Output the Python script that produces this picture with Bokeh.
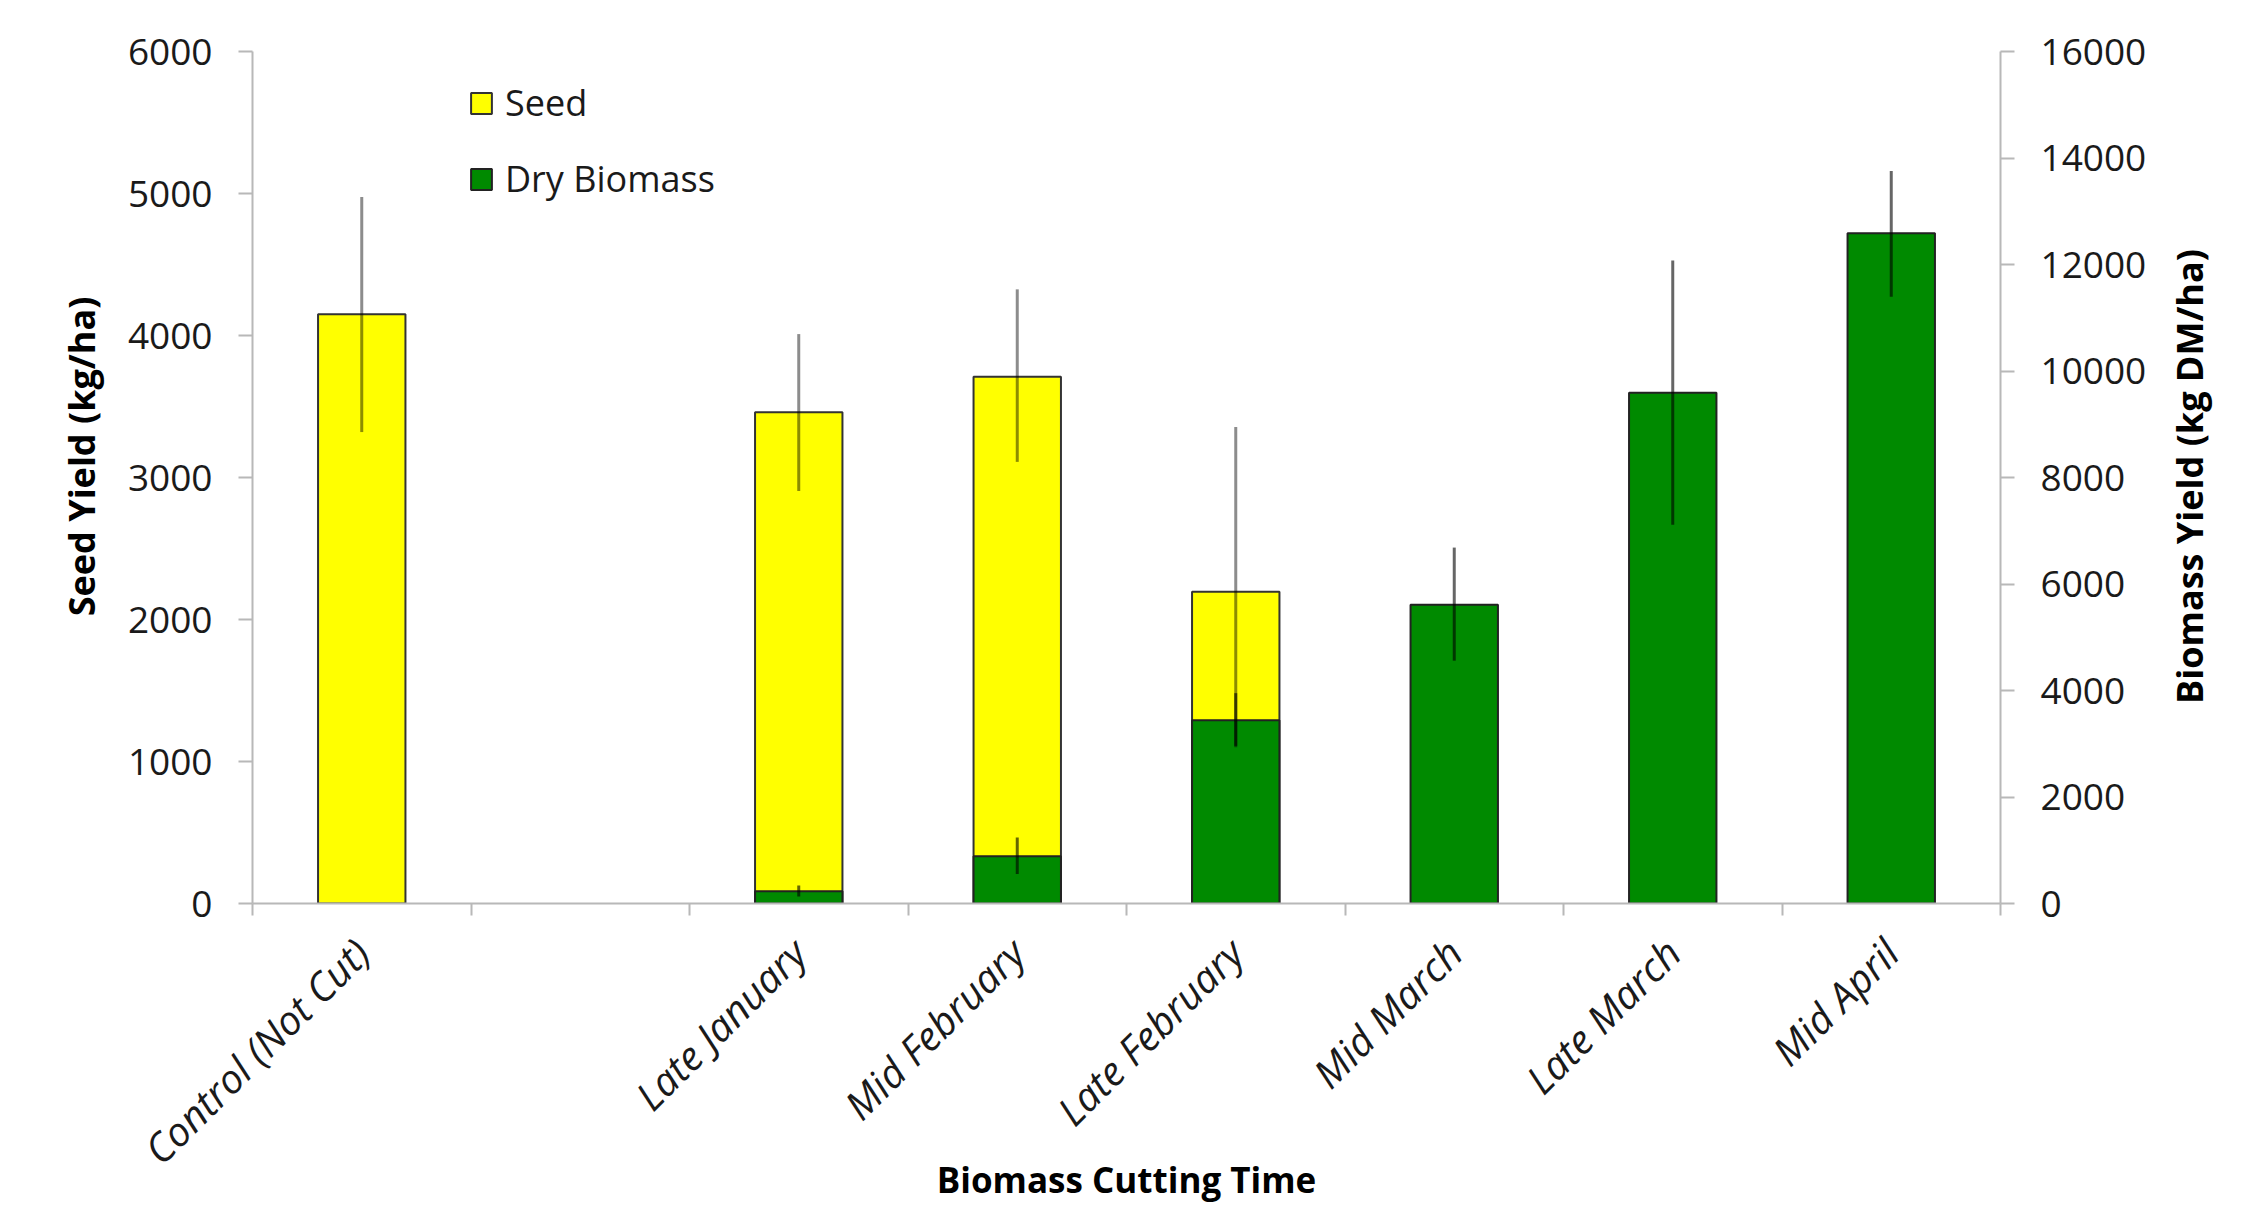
import math
from bokeh.plotting import figure
from bokeh.layouts import row
from bokeh.models import (Range1d, LinearAxis, FixedTicker, Legend, LegendItem,
                          ColumnDataSource)
from bokeh.core.properties import value
from bokeh.embed import file_html
from bokeh.resources import INLINE

# ---------------- data ----------------
categories = ["Control (Not Cut)", "", "Late January", "Mid February",
              "Late February", "Mid March", "Late March", "Mid April"]

seed_categories = ["Control (Not Cut)", "Late January", "Mid February", "Late February"]
seed_yield = [4150, 3460, 3710, 2195]
seed_err_low = [3320, 2905, 3110, 1100]
seed_err_high = [4975, 4010, 4325, 3355]

bio_categories = ["Late January", "Mid February", "Late February",
                  "Mid March", "Late March", "Mid April"]
bio_yield = [228, 888, 3440, 5610, 9590, 12585]
bio_err_low = [130, 555, 2960, 4560, 7115, 11395]
bio_err_high = [340, 1240, 3950, 6684, 12073, 13758]

seed_ticks = [0, 1000, 2000, 3000, 4000, 5000, 6000]
bio_ticks = [0, 2000, 4000, 6000, 8000, 10000, 12000, 14000, 16000]

left_title = "Seed Yield (kg/ha)"
right_title = "Biomass Yield (kg DM/ha)"
x_title = "Biomass Cutting Time"

FONT = "Open Sans"
AXIS_COLOR = "#b8b8b8"
TEXT_COLOR = "#1a1a1a"

H = 1197
LW, RW = 110, 88
FW, FH = 1748, 852
MAIN_LEFT = 252 - LW
MAIN_RIGHT = 160

# ---------------- main figure ----------------
n = len(categories)
p = figure(frame_width=FW, frame_height=FH, width=MAIN_LEFT + FW + MAIN_RIGHT, height=H,
           x_range=Range1d(-0.5, n - 0.5), y_range=Range1d(0, 6000),
           output_backend="svg", toolbar_location=None,
           min_border_left=MAIN_LEFT, min_border_right=MAIN_RIGHT,
           min_border_top=51, min_border_bottom=H - 51 - FH)
p.outline_line_color = None
p.grid.visible = False
p.background_fill_color = "white"
p.border_fill_color = "white"

p.extra_y_ranges = {"bio": Range1d(0, 16000)}

seed_x = [categories.index(c) for c in seed_categories]
bio_x = [categories.index(c) for c in bio_categories]

seed_src = ColumnDataSource(dict(x=seed_x, top=seed_yield, lo=seed_err_low, hi=seed_err_high))
bio_src = ColumnDataSource(dict(x=bio_x, top=bio_yield, lo=bio_err_low, hi=bio_err_high))

r_seed = p.vbar(x="x", top="top", bottom=0, width=0.4, source=seed_src,
                fill_color="#FFFF00", line_color="#333333", line_width=2)
r_bio = p.vbar(x="x", top="top", bottom=0, width=0.4, source=bio_src,
               fill_color="#008A00", line_color="#222222", line_width=2,
               y_range_name="bio")

p.segment(x0="x", y0="lo", x1="x", y1="hi", source=seed_src,
          line_color="black", line_alpha=0.45, line_width=3)
p.segment(x0="x", y0="lo", x1="x", y1="hi", source=bio_src,
          line_color="black", line_alpha=0.6, line_width=3, y_range_name="bio")

def style_y(ax):
    ax.axis_line_color = AXIS_COLOR
    ax.axis_line_width = 2
    ax.major_tick_line_color = AXIS_COLOR
    ax.major_tick_line_width = 2
    ax.major_tick_out = 14
    ax.major_tick_in = 0
    ax.minor_tick_line_color = None
    ax.major_label_text_font = FONT
    ax.major_label_text_font_size = "37px"
    ax.major_label_text_color = TEXT_COLOR
    ax.major_label_standoff = 26

yl = p.yaxis[0]
yl.ticker = FixedTicker(ticks=seed_ticks)
style_y(yl)

yr = LinearAxis(y_range_name="bio", ticker=FixedTicker(ticks=bio_ticks))
style_y(yr)
p.add_layout(yr, "right")

xa = p.xaxis[0]
xa.ticker = FixedTicker(ticks=list(range(n)),
                        minor_ticks=[i - 0.5 for i in range(n + 1)])
xa.major_label_overrides = {i: c for i, c in enumerate(categories)}
xa.major_label_orientation = math.pi / 4
xa.major_tick_out = 0
xa.major_tick_in = 0
xa.minor_tick_out = 12
xa.minor_tick_in = 0
xa.minor_tick_line_color = AXIS_COLOR
xa.minor_tick_line_width = 2
xa.axis_line_color = AXIS_COLOR
xa.axis_line_width = 2
xa.major_label_text_font = FONT
xa.major_label_text_font_size = "40px"
xa.major_label_text_font_style = "italic"
xa.major_label_text_color = TEXT_COLOR
xa.major_label_standoff = 30
xa.axis_label = x_title
xa.axis_label_text_font = FONT
xa.axis_label_text_font_size = "35px"
xa.axis_label_text_font_style = "bold"
xa.axis_label_text_color = "black"
xa.axis_label_standoff = -42

legend = Legend(items=[LegendItem(label="Seed", renderers=[r_seed]),
                       LegendItem(label="Dry Biomass", renderers=[r_bio])],
                location=(216, 700), orientation="vertical",
                glyph_width=26, glyph_height=26, label_height=46,
                spacing=27, padding=0, margin=0, label_standoff=11,
                label_text_font=FONT, label_text_font_size="36px",
                label_text_color=TEXT_COLOR,
                border_line_color=None, background_fill_alpha=0)
p.add_layout(legend)

# ---------------- side strips holding the vertical axis titles ----------------
def title_strip(w, text, cx, cy_from_top):
    f = figure(width=w, height=H, frame_width=w, frame_height=H,
               x_range=Range1d(0, w), y_range=Range1d(0, H),
               output_backend="svg", toolbar_location=None,
               x_axis_location=None, y_axis_location=None,
               min_border=0)
    f.outline_line_color = None
    f.grid.visible = False
    f.background_fill_color = "white"
    f.border_fill_color = "white"
    f.text(x=[cx], y=[H - cy_from_top], text=[text], angle=math.pi / 2,
           text_align="center", text_baseline="middle",
           text_font=value(FONT), text_font_size="36px",
           text_font_style="bold", text_color="black")
    return f

left_strip = title_strip(LW, left_title, 81, 405)
right_strip = title_strip(RW, right_title, 2189 - (LW + MAIN_LEFT + FW + MAIN_RIGHT), 425)

layout = row(left_strip, p, right_strip, spacing=0)
open("out.html", "w").write(file_html(layout, INLINE))
